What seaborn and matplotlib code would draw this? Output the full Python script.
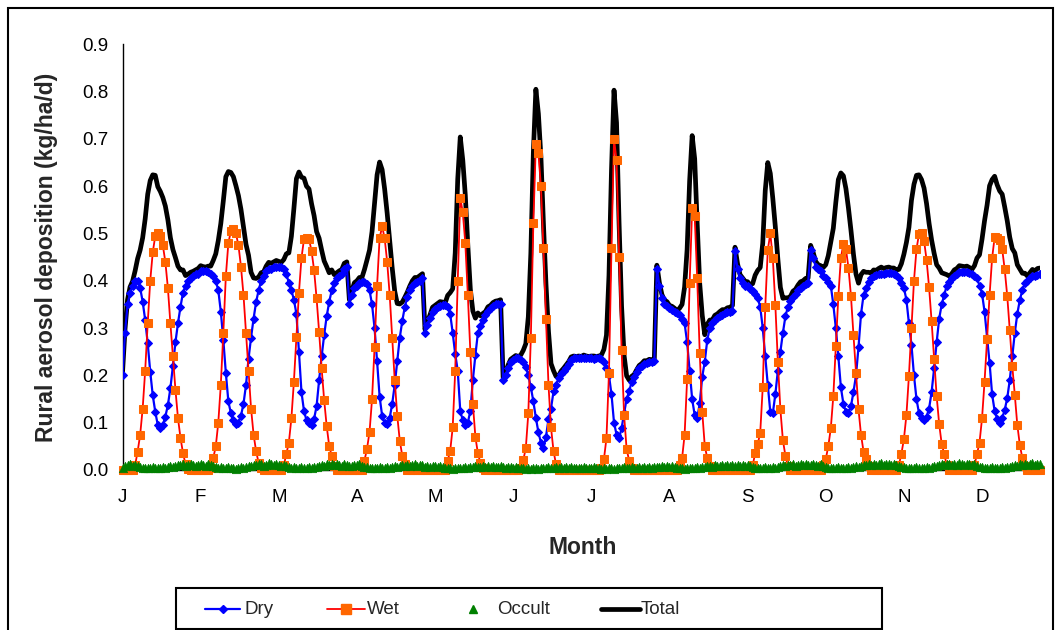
import numpy as np
import pandas as pd
import matplotlib
matplotlib.use("Agg")
import matplotlib.pyplot as plt
import seaborn as sns
from matplotlib.lines import Line2D
from matplotlib.patches import Rectangle

# ---- daily rural aerosol deposition (kg/ha/d), one list per month ----
dry_jan = [0.200, 0.290, 0.350, 0.375, 0.390, 0.400, 0.400, 0.385, 0.356, 0.317, 0.268, 0.208, 0.158, 0.123, 0.095, 0.089,
           0.095, 0.113, 0.137, 0.173, 0.220, 0.270, 0.310, 0.345, 0.375, 0.390, 0.400, 0.405, 0.410, 0.415, 0.415]
dry_feb = [0.420, 0.420, 0.420, 0.418, 0.415, 0.410, 0.400, 0.380, 0.335, 0.275, 0.205, 0.145, 0.120, 0.105, 0.098, 0.100,
           0.115, 0.140, 0.180, 0.235, 0.280, 0.320, 0.355, 0.380, 0.400, 0.410, 0.420, 0.425]
dry_mar = [0.425, 0.430, 0.430, 0.430, 0.430, 0.425, 0.415, 0.395, 0.380, 0.360, 0.330, 0.250, 0.165, 0.125, 0.105, 0.100,
           0.095, 0.108, 0.135, 0.190, 0.240, 0.285, 0.325, 0.355, 0.380, 0.395, 0.405, 0.410, 0.415, 0.425, 0.430]
dry_apr = [0.352, 0.370, 0.385, 0.390, 0.395, 0.398, 0.397, 0.393, 0.380, 0.350, 0.300, 0.230, 0.155, 0.115, 0.100, 0.097,
           0.110, 0.140, 0.180, 0.230, 0.280, 0.315, 0.345, 0.365, 0.380, 0.390, 0.395, 0.398, 0.400, 0.405]
dry_may = [0.290, 0.306, 0.322, 0.335, 0.340, 0.345, 0.347, 0.349, 0.348, 0.345, 0.330, 0.290, 0.245, 0.210, 0.125, 0.105,
           0.095, 0.100, 0.125, 0.190, 0.243, 0.290, 0.305, 0.318, 0.328, 0.336, 0.342, 0.346, 0.350, 0.352, 0.352]
dry_jun = [0.190, 0.200, 0.215, 0.228, 0.233, 0.236, 0.236, 0.233, 0.228, 0.218, 0.200, 0.175, 0.145, 0.110, 0.080, 0.058,
           0.046, 0.070, 0.107, 0.130, 0.166, 0.180, 0.194, 0.202, 0.210, 0.216, 0.225, 0.233, 0.236, 0.236]
dry_jul = [0.236, 0.236, 0.237, 0.236, 0.236, 0.236, 0.235, 0.236, 0.236, 0.235, 0.228, 0.215, 0.200, 0.160, 0.100, 0.075,
           0.067, 0.088, 0.120, 0.150, 0.166, 0.187, 0.197, 0.208, 0.215, 0.220, 0.224, 0.226, 0.228, 0.229, 0.230]
dry_aug = [0.426, 0.390, 0.363, 0.352, 0.347, 0.342, 0.338, 0.335, 0.332, 0.328, 0.320, 0.310, 0.270, 0.210, 0.150, 0.116,
           0.109, 0.141, 0.197, 0.229, 0.275, 0.300, 0.310, 0.317, 0.322, 0.326, 0.328, 0.331, 0.333, 0.335, 0.337]
dry_sep = [0.462, 0.426, 0.405, 0.395, 0.390, 0.388, 0.383, 0.378, 0.372, 0.363, 0.345, 0.300, 0.240, 0.180, 0.123, 0.120,
           0.160, 0.210, 0.250, 0.290, 0.325, 0.345, 0.357, 0.366, 0.373, 0.380, 0.385, 0.390, 0.393, 0.395]
dry_oct = [0.465, 0.448, 0.430, 0.425, 0.420, 0.410, 0.405, 0.398, 0.390, 0.350, 0.300, 0.240, 0.175, 0.140, 0.123, 0.120,
           0.135, 0.165, 0.200, 0.260, 0.330, 0.370, 0.385, 0.398, 0.405, 0.410, 0.412, 0.414, 0.415, 0.415, 0.416]
dry_nov = [0.416, 0.416, 0.415, 0.413, 0.405, 0.395, 0.385, 0.360, 0.310, 0.265, 0.200, 0.150, 0.120, 0.110, 0.106, 0.113,
           0.130, 0.165, 0.215, 0.270, 0.320, 0.350, 0.370, 0.390, 0.398, 0.405, 0.410, 0.415, 0.418, 0.419]
dry_dec = [0.419, 0.418, 0.416, 0.414, 0.410, 0.405, 0.390, 0.373, 0.335, 0.280, 0.226, 0.160, 0.125, 0.108, 0.100, 0.110,
           0.127, 0.152, 0.190, 0.240, 0.290, 0.330, 0.360, 0.380, 0.395, 0.400, 0.405, 0.410, 0.410, 0.413, 0.415]

wet_jan = [0, 0, 0, 0, 0, 0.010, 0.039, 0.074, 0.130, 0.210, 0.310, 0.400, 0.460, 0.495, 0.500, 0.495,
           0.475, 0.440, 0.385, 0.310, 0.240, 0.170, 0.110, 0.068, 0.036, 0.012, 0.003, 0, 0, 0, 0]
wet_feb = [0, 0, 0, 0, 0.005, 0.025, 0.050, 0.100, 0.180, 0.290, 0.410, 0.480, 0.505, 0.510, 0.500, 0.475,
           0.430, 0.370, 0.290, 0.210, 0.130, 0.075, 0.040, 0.015, 0.005, 0, 0, 0]
wet_mar = [0, 0, 0, 0, 0, 0.010, 0.034, 0.058, 0.109, 0.187, 0.282, 0.375, 0.448, 0.488, 0.490, 0.488,
           0.463, 0.423, 0.363, 0.292, 0.215, 0.148, 0.093, 0.051, 0.030, 0.008, 0, 0, 0, 0, 0]
wet_apr = [0, 0, 0, 0, 0, 0, 0.020, 0.045, 0.080, 0.150, 0.260, 0.390, 0.490, 0.515, 0.490, 0.440,
           0.370, 0.280, 0.190, 0.115, 0.062, 0.030, 0.012, 0, 0, 0, 0, 0, 0, 0]
wet_may = [0, 0, 0, 0, 0, 0, 0, 0, 0, 0.020, 0.040, 0.090, 0.210, 0.400, 0.575, 0.545,
           0.480, 0.370, 0.250, 0.140, 0.070, 0.035, 0.015, 0.005, 0, 0, 0, 0, 0, 0, 0]
wet_jun = [0, 0, 0, 0, 0, 0, 0, 0.005, 0.021, 0.046, 0.120, 0.280, 0.523, 0.690, 0.670, 0.600,
           0.470, 0.320, 0.180, 0.090, 0.040, 0.012, 0, 0, 0, 0, 0, 0, 0, 0]
wet_jul = [0, 0, 0, 0, 0, 0, 0, 0, 0, 0.005, 0.023, 0.067, 0.206, 0.470, 0.700, 0.655,
           0.451, 0.254, 0.116, 0.044, 0.020, 0.005, 0, 0, 0, 0, 0, 0, 0, 0, 0]
wet_aug = [0, 0, 0, 0, 0, 0, 0, 0, 0, 0.010, 0.025, 0.074, 0.192, 0.396, 0.553, 0.537,
           0.405, 0.248, 0.123, 0.051, 0.025, 0.008, 0, 0, 0, 0, 0, 0, 0, 0, 0]
wet_sep = [0, 0, 0, 0, 0, 0, 0, 0.010, 0.035, 0.055, 0.078, 0.175, 0.345, 0.465, 0.500, 0.448,
           0.349, 0.229, 0.128, 0.063, 0.030, 0.008, 0, 0, 0, 0, 0, 0, 0, 0]
wet_oct = [0, 0, 0, 0, 0, 0.010, 0.023, 0.050, 0.088, 0.156, 0.262, 0.368, 0.448, 0.478, 0.467, 0.428,
           0.368, 0.285, 0.206, 0.128, 0.074, 0.039, 0.023, 0.008, 0, 0, 0, 0, 0, 0, 0]
wet_nov = [0, 0, 0, 0, 0.010, 0.034, 0.065, 0.116, 0.199, 0.300, 0.400, 0.467, 0.499, 0.500, 0.485, 0.444,
           0.386, 0.314, 0.234, 0.156, 0.097, 0.055, 0.034, 0.010, 0, 0, 0, 0, 0, 0]
wet_dec = [0, 0, 0, 0, 0.010, 0.034, 0.058, 0.109, 0.187, 0.276, 0.370, 0.448, 0.492, 0.490, 0.486, 0.467,
           0.424, 0.368, 0.296, 0.220, 0.159, 0.095, 0.053, 0.025, 0.008, 0, 0, 0, 0, 0, 0]

occ_jan = [0.005, 0.008, 0.010, 0.012, 0.009, 0.011, 0.008, 0.006, 0.005, 0.004, 0.005, 0.004, 0.006, 0.005, 0.004, 0.005,
           0.006, 0.005, 0.007, 0.008, 0.006, 0.009, 0.011, 0.010, 0.012, 0.009, 0.011, 0.013, 0.010, 0.008, 0.011]
occ_feb = [0.012, 0.010, 0.009, 0.013, 0.011, 0.008, 0.007, 0.005, 0.006, 0.004, 0.005, 0.006, 0.004, 0.005, 0.003, 0.005,
           0.006, 0.004, 0.007, 0.009, 0.008, 0.011, 0.010, 0.013, 0.012, 0.009, 0.011, 0.014]
occ_mar = [0.012, 0.010, 0.013, 0.011, 0.009, 0.010, 0.008, 0.006, 0.005, 0.006, 0.004, 0.005, 0.006, 0.004, 0.005, 0.006,
           0.005, 0.007, 0.006, 0.008, 0.010, 0.009, 0.012, 0.011, 0.013, 0.010, 0.012, 0.011, 0.009, 0.012, 0.010]
occ_apr = [0.008, 0.009, 0.011, 0.010, 0.012, 0.009, 0.007, 0.006, 0.005, 0.004, 0.005, 0.004, 0.006, 0.005, 0.004, 0.006,
           0.005, 0.007, 0.008, 0.007, 0.009, 0.010, 0.008, 0.011, 0.009, 0.010, 0.012, 0.009, 0.011, 0.010]
occ_may = [0.007, 0.008, 0.006, 0.009, 0.008, 0.007, 0.009, 0.006, 0.005, 0.004, 0.005, 0.003, 0.004, 0.005, 0.004, 0.005,
           0.006, 0.005, 0.007, 0.006, 0.008, 0.007, 0.006, 0.008, 0.007, 0.009, 0.006, 0.008, 0.007, 0.006, 0.008]
occ_jun = [0.006, 0.005, 0.007, 0.006, 0.005, 0.006, 0.004, 0.005, 0.004, 0.003, 0.004, 0.003, 0.004, 0.005, 0.003, 0.004,
           0.005, 0.004, 0.006, 0.005, 0.004, 0.006, 0.005, 0.007, 0.005, 0.006, 0.004, 0.006, 0.005, 0.004]
occ_jul = [0.005, 0.004, 0.006, 0.005, 0.004, 0.005, 0.006, 0.004, 0.005, 0.003, 0.004, 0.003, 0.005, 0.004, 0.003, 0.004,
           0.005, 0.004, 0.006, 0.005, 0.004, 0.006, 0.005, 0.004, 0.006, 0.005, 0.007, 0.005, 0.006, 0.004, 0.006]
occ_aug = [0.007, 0.006, 0.008, 0.007, 0.009, 0.006, 0.008, 0.007, 0.005, 0.004, 0.005, 0.003, 0.004, 0.005, 0.004, 0.005,
           0.006, 0.005, 0.007, 0.006, 0.008, 0.009, 0.007, 0.010, 0.008, 0.009, 0.011, 0.008, 0.010, 0.009, 0.011]
occ_sep = [0.009, 0.010, 0.008, 0.011, 0.009, 0.010, 0.008, 0.006, 0.005, 0.004, 0.005, 0.004, 0.006, 0.005, 0.004, 0.006,
           0.005, 0.007, 0.008, 0.010, 0.009, 0.011, 0.010, 0.012, 0.009, 0.011, 0.013, 0.010, 0.012, 0.011]
occ_oct = [0.010, 0.012, 0.011, 0.009, 0.012, 0.008, 0.006, 0.005, 0.004, 0.005, 0.004, 0.006, 0.005, 0.004, 0.005, 0.006,
           0.004, 0.006, 0.008, 0.007, 0.009, 0.011, 0.010, 0.012, 0.011, 0.013, 0.010, 0.012, 0.014, 0.011, 0.012]
occ_nov = [0.013, 0.011, 0.012, 0.010, 0.009, 0.007, 0.006, 0.005, 0.004, 0.005, 0.004, 0.006, 0.005, 0.004, 0.005, 0.006,
           0.005, 0.007, 0.009, 0.008, 0.010, 0.012, 0.011, 0.013, 0.012, 0.010, 0.013, 0.011, 0.014, 0.012]
occ_dec = [0.011, 0.013, 0.012, 0.010, 0.012, 0.009, 0.007, 0.006, 0.005, 0.004, 0.005, 0.006, 0.004, 0.005, 0.004, 0.006,
           0.005, 0.007, 0.006, 0.008, 0.010, 0.009, 0.012, 0.011, 0.013, 0.010, 0.012, 0.014, 0.011, 0.013, 0.012]

month_labels = ["J", "F", "M", "A", "M", "J", "J", "A", "S", "O", "N", "D"]
label_every = 31  # one category label shown every 31 days
y_ticks = [0.0, 0.1, 0.2, 0.3, 0.4, 0.5, 0.6, 0.7, 0.8, 0.9]

dry = np.concatenate([dry_jan, dry_feb, dry_mar, dry_apr, dry_may, dry_jun,
                      dry_jul, dry_aug, dry_sep, dry_oct, dry_nov, dry_dec])
wet = np.concatenate([wet_jan, wet_feb, wet_mar, wet_apr, wet_may, wet_jun,
                      wet_jul, wet_aug, wet_sep, wet_oct, wet_nov, wet_dec])
occult = np.concatenate([occ_jan, occ_feb, occ_mar, occ_apr, occ_may, occ_jun,
                         occ_jul, occ_aug, occ_sep, occ_oct, occ_nov, occ_dec])
assert len(dry) == len(wet) == len(occult) == 365
total = dry + wet + occult
day = np.arange(len(dry))

df = pd.DataFrame({"day": day, "Dry": dry, "Wet": wet, "Occult": occult, "Total": total})

# ---- styling ----
sns.set_style("white")
plt.rcParams["font.family"] = ["Liberation Sans", "DejaVu Sans"]

BLUE, RED, ORANGE, GREEN = "#0000FF", "#FF0000", "#FF6600", "#008000"
W, H = 1062, 630
fig = plt.figure(figsize=(W / 100, H / 100), dpi=100)
x0, x1, y0, y1 = 122.5, 1040.0, 470.0, 44.3
ax = fig.add_axes([x0 / W, 1 - y0 / H, (x1 - x0) / W, (y0 - y1) / H])

sns.lineplot(data=df, x="day", y="Total", ax=ax, color="black", lw=3.4, zorder=2)
sns.lineplot(data=df, x="day", y="Dry", ax=ax, color=BLUE, lw=1.6, marker="D",
             markersize=4.2, markeredgecolor=BLUE, markerfacecolor=BLUE, zorder=3)
sns.lineplot(data=df, x="day", y="Wet", ax=ax, color=RED, lw=1.3, marker="s",
             markersize=5.8, markerfacecolor=ORANGE, markeredgecolor=ORANGE,
             zorder=4, clip_on=False)
sns.scatterplot(data=df, x="day", y="Occult", ax=ax, color=GREEN, marker="^",
                s=38, edgecolor=GREEN, linewidth=0.4, zorder=5, clip_on=False)

ax.set_xlim(0, len(day) - 1)
ax.set_ylim(0, 0.9)
ax.set_yticks(y_ticks)
ax.set_yticklabels([f"{v:.1f}" for v in y_ticks])
tick_pos = np.arange(0, len(day), label_every)[:len(month_labels)]
ax.set_xticks(tick_pos)
ax.set_xticklabels(month_labels)

for side in ("top", "right"):
    ax.spines[side].set_visible(False)
for side in ("left", "bottom"):
    ax.spines[side].set_color("black")
    ax.spines[side].set_linewidth(1.0)
ax.tick_params(axis="both", which="major", direction="out", length=5, width=1,
               color="black", labelsize=13.5, labelcolor="black")
ax.tick_params(axis="x", pad=9)
ax.tick_params(axis="y", pad=5)
ax.grid(False)

ax.set_xlabel("Month", fontsize=16.5, fontweight="bold")
ax.set_ylabel("Rural aerosol deposition (kg/ha/d)", fontsize=16.5, fontweight="bold")
ax.xaxis.set_label_coords((583 - x0) / (x1 - x0), (y0 - 547) / (y0 - y1))
ax.yaxis.set_label_coords((47 - x0) / (x1 - x0), (y0 - 257) / (y0 - y1))
ax.xaxis.label.set_va("center")
ax.yaxis.label.set_va("center")

# ---- legend box below the plot ----
def fx(px):
    return px / W

def fy(py):
    return 1 - py / H

fig.add_artist(Rectangle((fx(176), fy(629)), fx(882) - fx(176), fy(588) - fy(629),
                         transform=fig.transFigure, fill=False, edgecolor="black", lw=1.5))
ly = 609
entries = [
    (205, 240, dict(color=BLUE, lw=1.6, marker="D", ms=4.5, mfc=BLUE, mec=BLUE), 245, "Dry"),
    (327, 365, dict(color=RED, lw=1.3, marker="s", ms=6.5, mfc=ORANGE, mec=ORANGE), 367, "Wet"),
    (465, 481, dict(ls="none", marker="^", ms=5.5, color=GREEN), 497, "Occult"),
    (601, 640, dict(color="black", lw=3.4), 641, "Total"),
]
for xa, xb, style, tx, label in entries:
    line = Line2D([fx(xa), fx(xb)], [fy(ly), fy(ly)], transform=fig.transFigure, **style)
    if style.get("marker") and style.get("ls") != "none":
        line.set_markevery([1])
        line.set_data([fx(xa), fx((xa + xb) / 2), fx(xb)], [fy(ly)] * 3)
    elif style.get("ls") == "none":
        line.set_data([fx((xa + xb) / 2)], [fy(ly)])
    fig.add_artist(line)
    fig.text(fx(tx), fy(ly), label, fontsize=13.5, va="center", ha="left")

# ---- outer chart border ----
fig.add_artist(Rectangle((fx(8), fy(640)), fx(1053) - fx(8), fy(8) - fy(640),
                         transform=fig.transFigure, fill=False, edgecolor="black",
                         lw=1.5, clip_on=False))

fig.savefig("out.png", dpi=100, facecolor="white")
